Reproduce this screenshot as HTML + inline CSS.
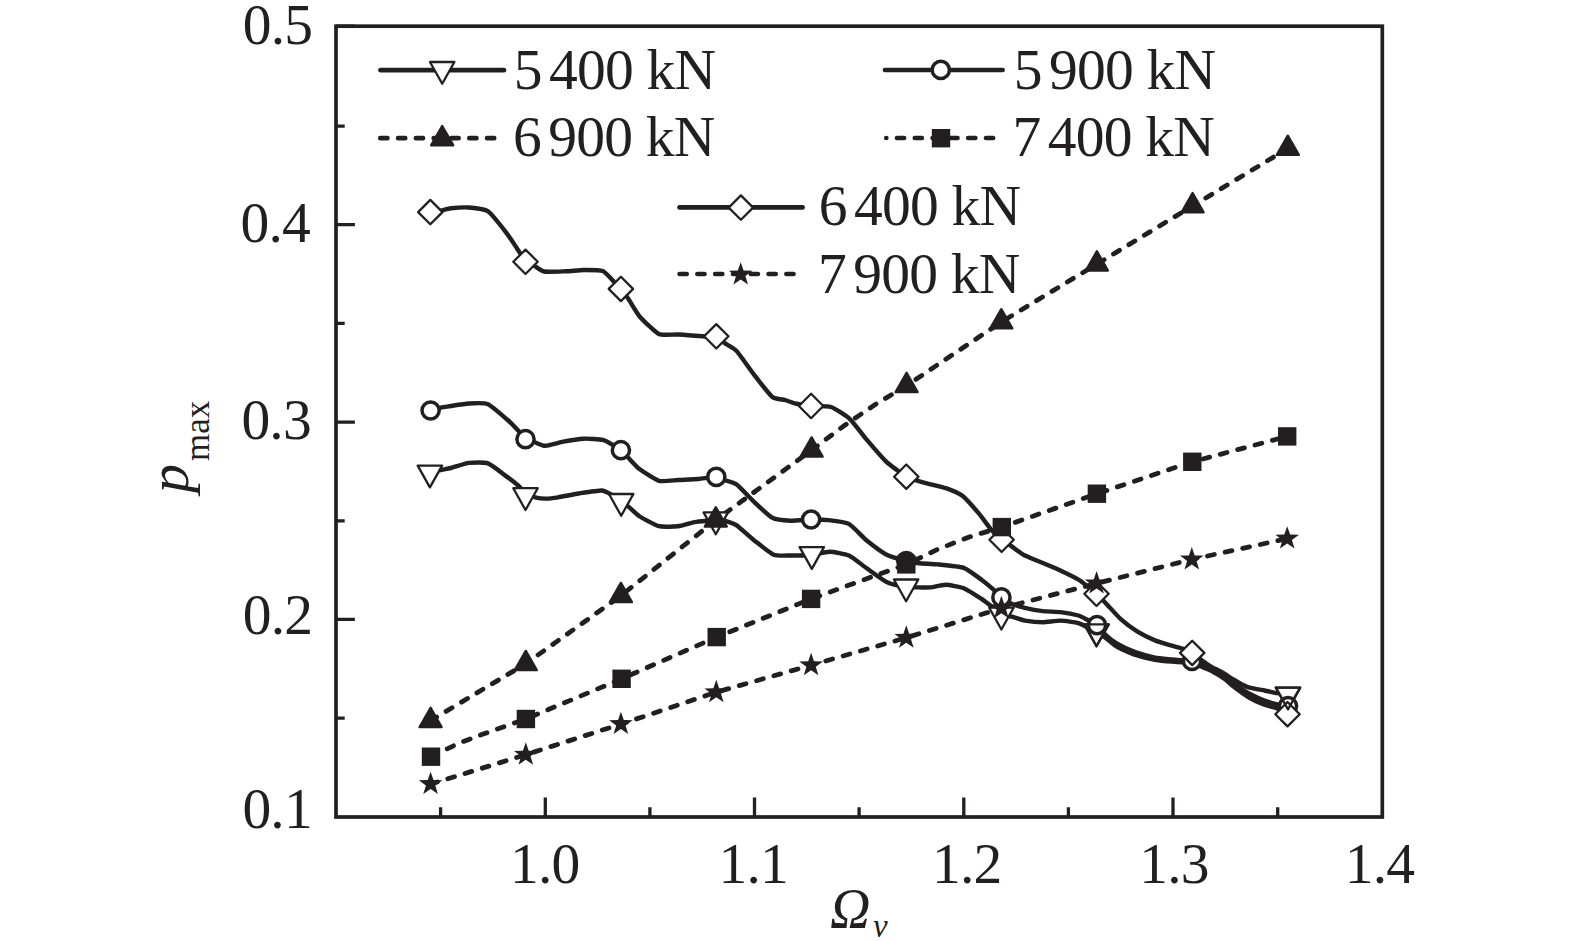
<!DOCTYPE html>
<html lang="en"><head><meta charset="utf-8"><title>p max versus Omega v</title>
<style>
html,body{margin:0;padding:0;background:#fff;}
body{width:1575px;height:941px;overflow:hidden;font-family:"Liberation Serif",serif;}
svg{display:block;}
</style></head><body>
<svg width="1575" height="941" viewBox="0 0 1575 941">
<rect width="1575" height="941" fill="#fff"/>
<g fill="none" stroke="#231f20" stroke-width="3.7" stroke-linecap="butt">
<rect x="336" y="26.2" width="1046.3" height="790.8"/>
<path stroke-width="3.3" d="M440.6 817V807.2M545.3 817V797.6M649.9 817V807.2M754.5 817V797.6M859.1 817V807.2M963.8 817V797.6M1068.4 817V807.2M1173 817V797.6M1277.7 817V807.2M336 718.2H344.7M336 619.3H354.9M336 520.9H344.7M336 422.1H354.9M336 323.4H344.7M336 224.6H354.9M336 126.2H344.7M336 26.2H354.9"/>
</g>
<g fill="none" stroke="#231f20" stroke-width="4.4" stroke-linecap="round" stroke-linejoin="round">
<path d="M430 472C431.1 471.8 440.1 470.2 442.1 469.8C444.1 469.4 448.5 468.6 451 468C453.5 467.4 465.4 463.3 468.9 462.9C472.4 462.5 484.4 462.1 488 463.4C491.6 464.7 504.2 474.8 507.1 476.9C510 479 516.9 484.4 518.6 485.9C520.3 487.4 524 491.9 525.5 493C527 494.1 533.3 496.8 535.2 497.3C537.1 497.8 543.3 498.6 545.4 498.6C547.5 498.6 555.1 497.8 558.2 497.3C561.3 496.8 574.6 494.1 578.6 493.5C582.6 492.9 598.4 490.4 601.5 490.5C604.6 490.6 609.9 493.8 611.7 494.8C613.5 495.8 619.5 499.5 621.2 500.7C622.9 501.9 627.9 506.1 629.6 507.6C631.3 509.1 637.1 514.8 639.8 516.5C642.5 518.2 655.3 525.3 658.9 526.2C662.5 527.1 674.9 526.6 678.1 526.2C681.3 525.8 690.8 522.8 693.4 522.3C696 521.8 704 521.1 706.1 520.8C708.2 520.5 713.7 518.9 715.8 519C717.9 519.1 727.1 521.5 729.1 522.1C731.1 522.7 734.3 523.7 736.7 525.4C739.1 527.1 751.1 538 754.6 540.7C758.1 543.4 770.4 553.3 773.7 554.7C777 556.1 786.8 555.5 790.3 555.5C793.8 555.5 807.4 555.4 811.1 555C814.8 554.6 826.2 551.7 829.7 551.7C833.2 551.7 845.4 554 848.9 555.5C852.4 557 863.1 565.8 866.7 568.3C870.3 570.8 883.5 580.6 887.1 582.3C890.7 584 902.5 586.5 905.5 587C908.5 587.5 916.7 587.4 919 587.4C921.3 587.4 928 587.6 930.5 587.4C933 587.2 942.7 584.7 945.8 584.8C948.9 584.9 960.4 586.9 963.7 588.2C967 589.5 978.9 597.2 981.5 598.9C984.1 600.6 989.8 605.1 991.7 606.5C993.6 607.9 999.5 613.2 1001.4 614.2C1003.3 615.2 1009.9 616.1 1012.1 616.7C1014.3 617.3 1022 620.1 1024.9 620.6C1027.8 621.1 1039.5 622.3 1042.8 622.3C1046.1 622.3 1057.3 620.5 1060.6 620.6C1063.9 620.7 1075.9 622.4 1078.5 623.1C1081.1 623.8 1087.1 627.4 1088.7 628.2C1090.3 629 1094.3 631.1 1095.8 632C1097.3 632.9 1103.3 636.2 1105.3 637.6C1107.3 639 1114 645 1116.7 646.6C1119.4 648.2 1131 653.5 1134.6 654.7C1138.2 655.9 1151.5 659.2 1155 659.8C1158.5 660.4 1169.2 661.4 1171.8 661.6C1174.4 661.8 1181.2 662.3 1183.1 662.4C1185 662.5 1190.4 662.5 1192 662.6C1193.6 662.7 1198.8 663.6 1200.6 664C1202.4 664.4 1209.3 666.2 1211.3 667C1213.3 667.8 1219.9 671.2 1221.9 672.3C1223.9 673.4 1230.7 677.9 1232.5 679C1234.3 680.1 1239.4 683.2 1241 684C1242.6 684.8 1247.3 687 1249.5 687.6C1251.7 688.2 1261.8 690 1264.4 690.5C1267 691 1275 692.8 1277.2 693.2C1279.4 693.6 1287 694.4 1288 694.5"/>
<path d="M430.6 410.6C431.6 410.3 438.9 408 440.8 407.6C442.7 407.2 448.4 406.4 451 406C453.6 405.6 465.4 403.7 468.9 403.5C472.4 403.3 484.4 402.7 488 404.2C491.6 405.7 504.2 417 507.1 419.5C510 422 516.9 429.2 518.6 431C520.3 432.8 524 438.1 525.5 439.2C527 440.3 533.3 441.9 535.2 442.5C537.1 443.1 542.8 445.9 545.4 445.8C548 445.7 559.7 442.4 563.3 441.7C566.9 441 580 438.9 583.7 438.7C587.4 438.5 600.1 439.3 602.8 439.9C605.5 440.5 611.3 444.1 613 445.1C614.7 446.1 619.5 449 620.9 450.2C622.3 451.4 626.5 456 628.3 457.8C630.1 459.6 636.9 467.2 639.8 469.3C642.7 471.4 655.3 479.8 658.9 480.8C662.5 481.8 674.4 480.2 678.1 480C681.8 479.8 694.9 479.3 698.5 479C702.1 478.7 713.7 476.7 716.3 476.9C718.9 477.1 724.6 480.1 726.5 480.8C728.4 481.5 734.1 482.6 736.7 484.6C739.3 486.6 751.3 499.3 754.6 502.4C757.9 505.5 769.1 516.1 772.4 517.8C775.7 519.5 786.7 520.6 790.3 520.8C793.9 521 807.5 519.6 811.1 519.5C814.7 519.4 825 519.7 828.5 520.1C832 520.5 845.3 522 848.9 523.9C852.5 525.8 863.1 537.6 866.7 540.5C870.3 543.4 883.4 553.1 887.1 555C890.8 556.9 903.3 560.2 906.3 561C909.3 561.8 916 562.9 919 563.2C922 563.5 934 564 938.2 564.4C942.4 564.8 959.7 566.4 963.7 567.8C967.7 569.2 978.8 577.7 981.5 579.7C984.2 581.7 991.1 587.5 993 589.2C994.9 590.9 999.6 596.2 1001.4 597.6C1003.2 599 1009.9 603 1012.1 604C1014.3 605 1022 607.1 1024.9 607.8C1027.8 608.5 1039.5 610.7 1042.8 611.1C1046.1 611.5 1057.3 611.7 1060.6 612.1C1063.9 612.5 1076 614.8 1078.5 615.5C1081 616.2 1085.7 618.9 1087.4 619.8C1089.1 620.7 1095.3 623.9 1097 625.3C1098.7 626.7 1103.5 632.9 1105.3 634.6C1107.1 636.3 1114 641.9 1116.7 643.5C1119.4 645.1 1131 650.6 1134.6 651.9C1138.2 653.2 1151.5 656.9 1155 657.6C1158.5 658.3 1169.2 659.2 1171.8 659.5C1174.4 659.8 1181.2 660.4 1183.1 660.5C1185 660.6 1190.4 660.5 1192 661C1193.6 661.5 1198.8 665.4 1200.6 666.3C1202.4 667.2 1209.3 669.7 1211.3 670.7C1213.3 671.7 1219.9 675.9 1221.9 677C1223.9 678.1 1229.9 681.4 1232.5 683C1235.1 684.6 1246.5 692.1 1249.5 693.7C1252.5 695.3 1261.8 699.6 1264.4 700.6C1267 701.6 1275 703.8 1277.2 704.3C1279.4 704.8 1287 705.8 1288 706"/>
<path d="M430.6 212.1C431.7 211.9 440.2 210.7 442.1 210.3C444 209.9 448.5 208.6 451 208.3C453.5 208 465.4 207.2 468.9 207.5C472.4 207.8 484.4 208.8 488 211.3C491.6 213.8 504.1 229.9 507.1 233.8C510.1 237.7 518.2 250.3 519.9 252.9C521.6 255.5 524.1 260.5 525.5 261.8C526.9 263.1 533.5 265.5 535.2 266.4C536.9 267.3 541.2 271 544.1 271.5C547 272 562.1 271.4 565.8 271.3C569.5 271.2 580.2 270 583.7 270C587.2 270 599.9 269.9 602.8 271C605.7 272.1 612.6 280.5 614.3 282.2C616 283.9 619.6 287.4 620.9 288.9C622.2 290.4 626.5 296.2 628.3 298.8C630.1 301.4 636.9 313.4 639.8 316.7C642.7 320 655.3 332.3 658.9 334C662.5 335.7 673.7 334.3 678.1 334.5C682.5 334.7 702.5 336.4 706.1 336.6C709.7 336.8 714.5 335.7 716.3 336.3C718.1 336.9 723.4 342.1 725.3 343.5C727.2 344.9 734 348.1 736.7 351.1C739.4 354.1 751.3 371.1 754.6 375.4C757.9 379.7 769.6 394.7 772.4 397C775.2 399.3 782.9 399.4 785 400C787.1 400.6 792.9 402.9 795.3 403.5C797.7 404.1 807.8 405.7 811.1 406C814.4 406.3 827.4 405.8 831 407C834.6 408.2 846.9 416.2 850.2 419.3C853.5 422.4 863.4 435.8 866.7 439.7C870 443.6 883 458.5 885.9 461.4C888.8 464.3 895.4 468.9 897.3 470.3C899.2 471.7 903.9 475.6 906.3 476.7C908.7 477.8 919.2 481.2 922.9 482.3C926.6 483.4 942.1 486.9 945.8 488.2C949.5 489.5 959.3 493.4 962.4 495.8C965.5 498.2 976.3 510.5 979 513.7C981.7 516.9 989.6 527.9 991.7 530.3C993.8 532.7 999.7 538.3 1001.6 539.8C1003.5 541.3 1009.9 545.1 1012.1 546.6C1014.3 548.1 1020.8 553.5 1024.9 555.5C1029 557.5 1050.5 566 1055.5 568.3C1060.5 570.6 1075.4 577.9 1078.5 579.7C1081.6 581.5 1087 586.1 1088.7 587.4C1090.4 588.7 1094.8 592.3 1096.5 593.8C1098.2 595.3 1104.2 601.5 1106.5 603.9C1108.8 606.3 1117.9 616.6 1120.8 619.2C1123.7 621.8 1133.9 629.4 1137.1 631.4C1140.3 633.4 1152.3 639.3 1155.5 640.6C1158.7 641.9 1169.2 644.9 1171.8 645.7C1174.4 646.5 1181.2 648.1 1183.1 648.8C1185 649.5 1190.6 651.9 1192.2 652.9C1193.8 653.9 1198.8 658.2 1200.6 659.5C1202.4 660.8 1209.3 665.4 1211.3 667C1213.3 668.6 1219.9 674.8 1221.9 676.5C1223.9 678.2 1229.9 683.7 1232.5 685.7C1235.1 687.7 1246.5 696 1249.5 697.8C1252.5 699.6 1261.8 703.8 1264.4 704.8C1267 705.8 1275 707.6 1277.2 708.5C1279.4 709.4 1286.5 713.7 1287.5 714.2"/>
<path stroke-width="4.8" stroke-dasharray="7 11" d="M430.6 720.6L525.8 663.7L620.9 595.7L715.8 520.1L811.6 450.2L843.3 426.3L874.9 404.7L906.6 385.6L1001.3 322L1096.9 264.1L1192.6 205.9L1287.8 148.5"/>
<path stroke-width="4.8" stroke-dasharray="7 11" d="M431 756.7L459.5 742.9L487.9 732.3L525.9 719L621.6 678.8L716.7 637.1L811.1 598.9L906.3 564.4L938 549.2L969.9 536.8L1001.8 527.1L1096.9 493.7L1192.3 461.8L1287.2 436.4"/>
<path stroke-width="4.8" stroke-dasharray="7 11" d="M430.6 784.1L525.8 754.7L620.9 724.1L716.3 692.2L811.1 665.2L906.3 637.7L1001.4 608.2L1096.6 583.4L1191.8 559.4L1287.2 538.6"/>
</g>
<g fill="none" stroke="#231f20" stroke-width="4.7" stroke-linecap="round">
<path d="M380.5 70.2H504"/>
<path d="M885 70H1002.6"/>
<path d="M679.5 207.4H802.6"/>
<path stroke-dasharray="7.1 10.7" d="M380.3 138.2H495"/>
<path stroke-dasharray="7.1 10.7" stroke-dashoffset="7.09" d="M886.3 138H993.5"/>
<path stroke-dasharray="7.1 10.7" d="M679.6 274H794"/>
</g>
<path d="M417.7 465.6L442.1 465.6L429.9 487.4Z" fill="#fff" stroke="#231f20" stroke-width="2.3" stroke-linejoin="round"/>
<circle cx="430.6" cy="410.5" r="8.6" fill="#fff" stroke="#231f20" stroke-width="3.5"/>
<path d="M430.3 199.9L442.5 212.1L430.3 224.3L418.1 212.1Z" fill="#fff" stroke="#231f20" stroke-width="2.3" stroke-linejoin="round"/>
<path d="M513.3 488.2L537.7 488.2L525.5 510Z" fill="#fff" stroke="#231f20" stroke-width="2.3" stroke-linejoin="round"/>
<circle cx="525.5" cy="439.2" r="8.6" fill="#fff" stroke="#231f20" stroke-width="3.5"/>
<path d="M525.5 249.6L537.7 261.8L525.5 274L513.3 261.8Z" fill="#fff" stroke="#231f20" stroke-width="2.3" stroke-linejoin="round"/>
<path d="M609 494L633.4 494L621.2 515.8Z" fill="#fff" stroke="#231f20" stroke-width="2.3" stroke-linejoin="round"/>
<circle cx="620.9" cy="450.2" r="8.6" fill="#fff" stroke="#231f20" stroke-width="3.5"/>
<path d="M620.9 276.7L633.1 288.9L620.9 301.1L608.7 288.9Z" fill="#fff" stroke="#231f20" stroke-width="2.3" stroke-linejoin="round"/>
<path d="M703.6 512.4L728 512.4L715.8 534.2Z" fill="#fff" stroke="#231f20" stroke-width="2.3" stroke-linejoin="round"/>
<circle cx="716.3" cy="476.9" r="8.6" fill="#fff" stroke="#231f20" stroke-width="3.5"/>
<path d="M716.3 324.1L728.5 336.3L716.3 348.5L704.1 336.3Z" fill="#fff" stroke="#231f20" stroke-width="2.3" stroke-linejoin="round"/>
<path d="M799.6 547.1L824 547.1L811.8 568.9Z" fill="#fff" stroke="#231f20" stroke-width="2.3" stroke-linejoin="round"/>
<circle cx="811.1" cy="519.5" r="8.6" fill="#fff" stroke="#231f20" stroke-width="3.5"/>
<path d="M811.1 393.8L823.3 406L811.1 418.2L798.9 406Z" fill="#fff" stroke="#231f20" stroke-width="2.3" stroke-linejoin="round"/>
<path d="M893.9 579.5L918.3 579.5L906.1 601.3Z" fill="#fff" stroke="#231f20" stroke-width="2.3" stroke-linejoin="round"/>
<circle cx="906.3" cy="561" r="8.6" fill="#231f20" stroke="#231f20" stroke-width="3.5"/>
<path d="M906.3 464.5L918.5 476.7L906.3 488.9L894.1 476.7Z" fill="#fff" stroke="#231f20" stroke-width="2.3" stroke-linejoin="round"/>
<path d="M989.2 607.7L1013.6 607.7L1001.4 629.5Z" fill="#fff" stroke="#231f20" stroke-width="2.3" stroke-linejoin="round"/>
<circle cx="1001.4" cy="597.4" r="8.6" fill="#fff" stroke="#231f20" stroke-width="3.5"/>
<path d="M1001.6 527.6L1013.8 539.8L1001.6 552L989.4 539.8Z" fill="#fff" stroke="#231f20" stroke-width="2.3" stroke-linejoin="round"/>
<path d="M1084.3 624.4L1108.7 624.4L1096.5 646.2Z" fill="#fff" stroke="#231f20" stroke-width="2.3" stroke-linejoin="round"/>
<circle cx="1097" cy="625.1" r="8.6" fill="#fff" stroke="#231f20" stroke-width="3.5"/>
<path d="M1084.3 624.4L1108.7 624.4L1096.5 646.2Z" fill="none" stroke="#231f20" stroke-width="2.3" stroke-linejoin="round"/>
<path d="M1096.5 581.6L1108.7 593.8L1096.5 606L1084.3 593.8Z" fill="#fff" stroke="#231f20" stroke-width="2.3" stroke-linejoin="round"/>
<circle cx="1192" cy="661" r="8.6" fill="#fff" stroke="#231f20" stroke-width="3.5"/>
<path d="M1192.2 640.7L1204.4 652.9L1192.2 665.1L1180 652.9Z" fill="#fff" stroke="#231f20" stroke-width="2.3" stroke-linejoin="round"/>
<path d="M1275.8 687.6L1300.2 687.6L1288 709.4Z" fill="#fff" stroke="#231f20" stroke-width="2.3" stroke-linejoin="round"/>
<circle cx="1288" cy="706" r="8.6" fill="#fff" stroke="#231f20" stroke-width="3.5"/>
<path d="M1287.5 702L1299.7 714.2L1287.5 726.4L1275.3 714.2Z" fill="#fff" stroke="#231f20" stroke-width="2.3" stroke-linejoin="round"/>
<path d="M1275.8 687.6L1300.2 687.6L1288 709.4Z" fill="none" stroke="#231f20" stroke-width="2.3" stroke-linejoin="round"/>
<path d="M430 62L454.4 62L442.2 83.8Z" fill="#fff" stroke="#231f20" stroke-width="2.3" stroke-linejoin="round"/>
<circle cx="940.8" cy="69.9" r="8.6" fill="#fff" stroke="#231f20" stroke-width="3.5"/>
<path d="M740.9 195.4L753.1 207.6L740.9 219.8L728.7 207.6Z" fill="#fff" stroke="#231f20" stroke-width="2.3" stroke-linejoin="round"/>
<g fill="#231f20" stroke="#231f20" stroke-width="2.4" stroke-linejoin="round">
<path d="M430.6 707.8L441.6 727L419.6 727Z"/>
<path d="M525.8 650.9L536.8 670.1L514.8 670.1Z"/>
<path d="M620.9 582.9L631.9 602.1L609.9 602.1Z"/>
<path d="M715.8 507.3L726.8 526.5L704.8 526.5Z"/>
<path d="M811.6 437.4L822.6 456.6L800.6 456.6Z"/>
<path d="M906.6 372.8L917.6 392L895.6 392Z"/>
<path d="M1001.3 309.2L1012.3 328.4L990.3 328.4Z"/>
<path d="M1096.9 251.3L1107.9 270.5L1085.9 270.5Z"/>
<path d="M1192.6 193.1L1203.6 212.3L1181.6 212.3Z"/>
<path d="M1287.8 135.7L1298.8 154.9L1276.8 154.9Z"/>
<path d="M442.2 126L453.2 145.2L431.2 145.2Z"/>
</g>
<g fill="#231f20">
<rect x="421.8" y="747.5" width="18.4" height="18.4"/>
<rect x="516.7" y="709.8" width="18.4" height="18.4"/>
<rect x="612.4" y="669.6" width="18.4" height="18.4"/>
<rect x="707.5" y="627.9" width="18.4" height="18.4"/>
<rect x="801.9" y="589.7" width="18.4" height="18.4"/>
<rect x="897.1" y="555.2" width="18.4" height="18.4"/>
<rect x="992.6" y="517.9" width="18.4" height="18.4"/>
<rect x="1087.7" y="484.5" width="18.4" height="18.4"/>
<rect x="1183.1" y="452.6" width="18.4" height="18.4"/>
<rect x="1278" y="427.2" width="18.4" height="18.4"/>
<rect x="931.8" y="129" width="18.4" height="18.4"/>
<path d="M430.6 771.7L433.5 780.1L442.4 780.3L435.3 785.6L437.9 794.1L430.6 789.1L423.3 794.1L425.9 785.6L418.8 780.3L427.7 780.1Z"/>
<path d="M525.8 742.3L528.7 750.7L537.6 750.9L530.5 756.2L533.1 764.7L525.8 759.7L518.5 764.7L521.1 756.2L514 750.9L522.9 750.7Z"/>
<path d="M620.9 711.7L623.8 720.1L632.7 720.3L625.6 725.6L628.2 734.1L620.9 729.1L613.6 734.1L616.2 725.6L609.1 720.3L618 720.1Z"/>
<path d="M716.3 679.8L719.2 688.2L728.1 688.4L721 693.7L723.6 702.2L716.3 697.2L709 702.2L711.6 693.7L704.5 688.4L713.4 688.2Z"/>
<path d="M811.1 652.8L814 661.2L822.9 661.4L815.8 666.7L818.4 675.2L811.1 670.2L803.8 675.2L806.4 666.7L799.3 661.4L808.2 661.2Z"/>
<path d="M906.3 625.3L909.2 633.7L918.1 633.9L911 639.2L913.6 647.7L906.3 642.7L899 647.7L901.6 639.2L894.5 633.9L903.4 633.7Z"/>
<path d="M1001.4 595.8L1004.3 604.2L1013.2 604.4L1006.1 609.7L1008.7 618.2L1001.4 613.2L994.1 618.2L996.7 609.7L989.6 604.4L998.5 604.2Z"/>
<path d="M1096.6 571L1099.5 579.4L1108.4 579.6L1101.3 584.9L1103.9 593.4L1096.6 588.4L1089.3 593.4L1091.9 584.9L1084.8 579.6L1093.7 579.4Z"/>
<path d="M1191.8 547L1194.7 555.4L1203.6 555.6L1196.5 560.9L1199.1 569.4L1191.8 564.4L1184.5 569.4L1187.1 560.9L1180 555.6L1188.9 555.4Z"/>
<path d="M1287.2 526.2L1290.1 534.6L1299 534.8L1291.9 540.1L1294.5 548.6L1287.2 543.6L1279.9 548.6L1282.5 540.1L1275.4 534.8L1284.3 534.6Z"/>
<path d="M740.7 262.2L743.6 270.6L752.5 270.8L745.4 276.1L748 284.6L740.7 279.6L733.4 284.6L736 276.1L728.9 270.8L737.8 270.6Z"/>
</g>
<g fill="#231f20" font-family="'Liberation Serif', serif">
<g font-size="57.5" letter-spacing="-0.8">
<text x="242.8" y="43.5">0.5</text>
<text x="240.5" y="241.5">0.4</text>
<text x="241.4" y="439.4">0.3</text>
<text x="242.7" y="634.3">0.2</text>
<text x="242.4" y="827.5">0.1</text>
<text x="510" y="883.3">1.0</text>
<text x="718.6" y="883.3">1.1</text>
<text x="932.1" y="883.3">1.2</text>
<text x="1139.2" y="883.3">1.3</text>
<text x="1344.8" y="883.3">1.4</text>
<text x="513.7" y="88.6" xml:space="preserve">5 <tspan dx="-6.2">400 kN</tspan></text>
<text x="1013.7" y="88.6" xml:space="preserve">5 <tspan dx="-6.2">900 kN</tspan></text>
<text x="513" y="155.8" xml:space="preserve">6 <tspan dx="-6.2">900 kN</tspan></text>
<text x="1012.5" y="155.8" xml:space="preserve">7 <tspan dx="-6.2">400 kN</tspan></text>
<text x="818.7" y="224.7" xml:space="preserve">6 <tspan dx="-6.2">400 kN</tspan></text>
<text x="818" y="293" xml:space="preserve">7 <tspan dx="-6.2">900 kN</tspan></text>
</g>
<text x="830" y="927.6" font-size="56" font-style="italic">Ω<tspan font-size="33" dy="9" dx="2.5">v</tspan></text>
<text transform="translate(187.6 493) rotate(-90)" font-size="58"><tspan font-style="italic">p</tspan><tspan font-size="35" dy="21" dx="3">max</tspan></text>
</g>
</svg>
</body></html>
